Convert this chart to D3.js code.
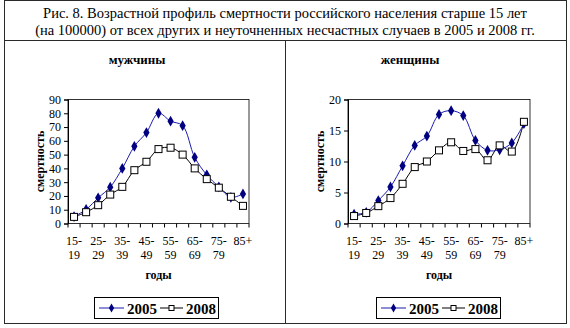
<!DOCTYPE html>
<html>
<head>
<meta charset="utf-8">
<script src="https://cdn.jsdelivr.net/npm/d3@7"></script>
<style>
  body { margin: 0; background: #fff; }
  svg { display: block; font-family: "Liberation Serif", "Times New Roman", serif; }
</style>
</head>
<body>
<div id="chart"></div>
<script>
// age groups, labels under every other tick
const ages = ['15-19','20-24','25-29','30-34','35-39','40-44','45-49','50-54','55-59','60-64','65-69','70-74','75-79','80-84','85+'];
const tickTop = ['15-','','25-','','35-','','45-','','55-','','65-','','75-','','85+'];
const tickBottom = ['19','','29','','39','','49','','59','','69','','79','',''];

const men2005 = [5, 10.2, 18.6, 26.4, 40, 56, 66, 80, 74.3, 71, 48, 35.3, 26.6, 19, 21.5];
const men2008 = [4.8, 8.2, 13.3, 21, 26.6, 38.7, 44.8, 54, 55, 50, 40, 32.2, 26, 19.4, 12.8];
const women2005 = [1.5, 1.8, 3.7, 5.9, 9.3, 12.6, 14.1, 17.6, 18.2, 17.4, 13.4, 11.8, 11.9, 13, 16.1];
const women2008 = [1.2, 1.7, 2.8, 4.1, 6.4, 9.1, 10, 11.8, 13.1, 11.7, 12, 10.2, 12.6, 11.6, 16.4];

const menTicks = [0,10,20,30,40,50,60,70,80,90];
const womenTicks = [0,5,10,15,20];

const W = 570, H = 328;
const svg = d3.select('#chart').append('svg').attr('width', W).attr('height', H);

// frame like a table
const frame = '#2a2a2a';
svg.append('rect').attr('x', 4.5).attr('y', 0.5).attr('width', 562).attr('height', 323)
   .attr('fill', 'none').attr('stroke', frame);
svg.append('line').attr('x1', 4).attr('x2', 567).attr('y1', 40.5).attr('y2', 40.5).attr('stroke', frame);
svg.append('line').attr('x1', 285.5).attr('x2', 285.5).attr('y1', 40).attr('y2', 324).attr('stroke', frame);

svg.append('text').attr('x', 285).attr('y', 18).attr('text-anchor', 'middle')
   .attr('font-size', 14.5).text('Рис. 8. Возрастной профиль смертности российского населения старше 15 лет');
svg.append('text').attr('x', 285).attr('y', 35).attr('text-anchor', 'middle')
   .attr('font-size', 14.5).text('(на 100000) от всех других и неуточненных несчастных случаев в 2005 и 2008 гг.');

function panel(opts) {
  const g = svg.append('g');
  const x0 = opts.left, x1 = opts.right, yTop = 99.5, yBot = 223.5;

  const x = d3.scaleBand().domain(ages).range([x0, x1]);
  const y = d3.scaleLinear().domain([0, opts.max]).range([yBot, yTop]);

  g.append('text').attr('x', opts.titleX).attr('y', 64).attr('text-anchor', 'middle')
   .attr('font-size', 13).attr('font-weight', 'bold').text(opts.title);

  // plot box
  g.append('rect').attr('x', x0).attr('y', yTop).attr('width', x1 - x0).attr('height', yBot - yTop)
   .attr('fill', 'none').attr('stroke', '#000').attr('stroke-width', 0.8);

  const yAxis = g.append('g').attr('transform', `translate(${x0},0)`)
    .call(d3.axisLeft(y).tickValues(opts.ticks).tickSize(4).tickPadding(3));
  yAxis.select('.domain').attr('stroke', '#000');
  yAxis.selectAll('text').attr('font-size', 12).attr('fill', '#000')
    .attr('font-family', '"Liberation Serif", serif');

  // x ticks at group boundaries
  const bounds = ages.map(d => x(d)).concat([x1]);
  g.selectAll('.xt').data(bounds).enter().append('line')
   .attr('x1', d => d).attr('x2', d => d).attr('y1', yBot).attr('y2', yBot + 4).attr('stroke', '#000');

  g.selectAll('.lt').data(ages).enter().append('text')
   .attr('x', d => x(d) + x.bandwidth() / 2).attr('y', 245).attr('text-anchor', 'middle')
   .attr('font-size', 12).text((d, i) => tickTop[i]);
  g.selectAll('.lb').data(ages).enter().append('text')
   .attr('x', d => x(d) + x.bandwidth() / 2).attr('y', 259).attr('text-anchor', 'middle')
   .attr('font-size', 12).text((d, i) => tickBottom[i]);

  g.append('text').attr('x', (x0 + x1) / 2).attr('y', 279).attr('text-anchor', 'middle')
   .attr('font-size', 12).attr('font-weight', 'bold').text('годы');

  g.append('text').attr('transform', `translate(${x0 - 24},${(yTop + yBot) / 2}) rotate(-90)`)
   .attr('text-anchor', 'middle').attr('font-size', 12).attr('font-weight', 'bold').text('смертность');

  const line = d3.line().x((d, i) => x(ages[i]) + x.bandwidth() / 2).y(d => y(d))
    .curve(d3.curveCatmullRom.alpha(0.5));

  g.append('path').datum(opts.b).attr('d', line).attr('fill', 'none').attr('stroke', '#000').attr('stroke-width', 1);
  g.append('path').datum(opts.a).attr('d', line).attr('fill', 'none').attr('stroke', '#1c1cb0').attr('stroke-width', 1);

  const diamond = d3.symbol().type(d3.symbolDiamond).size(34);
  g.selectAll('.da').data(opts.a).enter().append('path')
   .attr('d', diamond).attr('fill', '#000080')
   .attr('transform', (d, i) => `translate(${x(ages[i]) + x.bandwidth() / 2},${y(d)})`);
  g.selectAll('.sb').data(opts.b).enter().append('rect')
   .attr('x', (d, i) => x(ages[i]) + x.bandwidth() / 2 - 3.5).attr('y', d => y(d) - 3.5)
   .attr('width', 7).attr('height', 7).attr('fill', '#fff').attr('stroke', '#000').attr('stroke-width', 1);

  // legend
  const lx = opts.legendX, ly = 297;
  g.append('rect').attr('x', lx + 0.5).attr('y', ly + 0.5).attr('width', 124).attr('height', 21)
   .attr('fill', '#fff').attr('stroke', '#000').attr('stroke-width', 1);
  g.append('line').attr('x1', lx + 5).attr('x2', lx + 30).attr('y1', ly + 11).attr('y2', ly + 11).attr('stroke', '#1c1cb0');
  g.append('path').attr('d', d3.symbol().type(d3.symbolDiamond).size(24)).attr('fill', '#000080')
   .attr('transform', `translate(${lx + 17.5},${ly + 11})`);
  g.append('text').attr('x', lx + 33).attr('y', ly + 16.5).attr('font-size', 15).attr('font-weight', 'bold').text('2005');
  g.append('line').attr('x1', lx + 66).attr('x2', lx + 89).attr('y1', ly + 11).attr('y2', ly + 11).attr('stroke', '#000');
  g.append('rect').attr('x', lx + 75).attr('y', ly + 8.5).attr('width', 5).attr('height', 5)
   .attr('fill', '#fff').attr('stroke', '#000');
  g.append('text').attr('x', lx + 92).attr('y', ly + 16.5).attr('font-size', 15).attr('font-weight', 'bold').text('2008');
}

panel({ left: 68, right: 249, max: 90, ticks: menTicks, title: 'мужчины', titleX: 137,
        a: men2005, b: men2008, legendX: 94 });
panel({ left: 348, right: 530, max: 20, ticks: womenTicks, title: 'женщины', titleX: 410,
        a: women2005, b: women2008, legendX: 376 });
</script>
</body>
</html>
